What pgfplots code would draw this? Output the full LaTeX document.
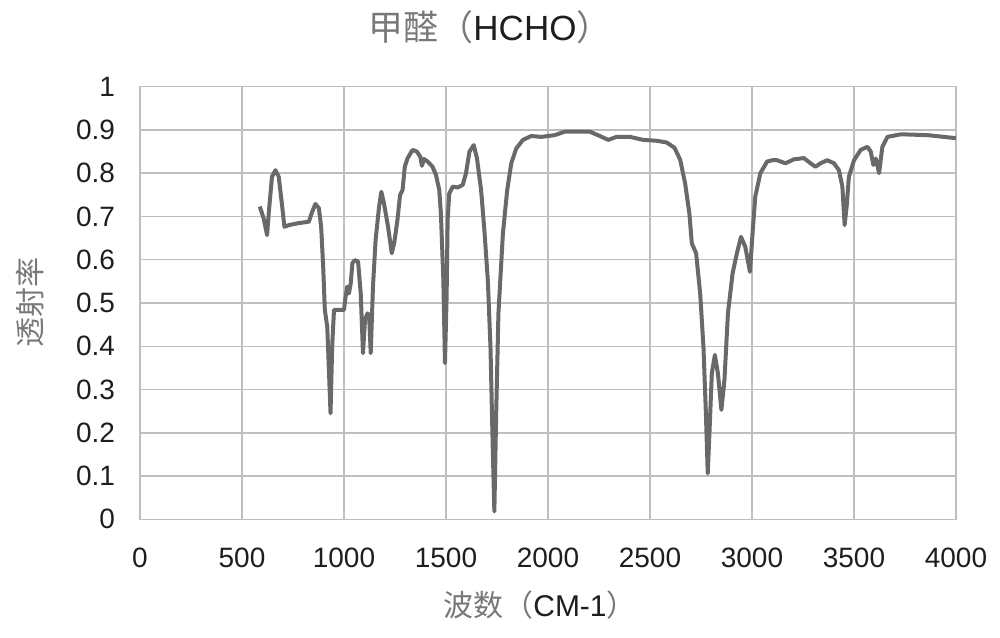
\documentclass[border=0pt]{standalone}
\usepackage{pgfplots}
\pgfplotsset{compat=1.18}
\usepackage{fontspec}
\setmainfont{Liberation Sans}
\newfontfamily\cjk{Noto Sans CJK SC}
\definecolor{curve}{RGB}{105,105,105}
\definecolor{gridc}{RGB}{190,190,190}
\definecolor{labc}{RGB}{120,120,120}
\definecolor{tickc}{RGB}{30,30,30}
\begin{document}
\begin{tikzpicture}
\begin{axis}[
  at={(0,0)}, anchor=south west,
  scale only axis, width=408pt, height=216.3pt,
  xmin=0, xmax=4000, ymin=0, ymax=1,
  xtick={0,500,...,4000},
  ytick={0,0.1,0.2,0.3,0.4,0.5,0.6,0.7,0.8,0.9,1},
  yticklabels={0,0.1,0.2,0.3,0.4,0.5,0.6,0.7,0.8,0.9,1},
  scaled ticks=false,
  /pgf/number format/1000 sep={},
  /pgf/number format/assume math mode=true,
  major tick length=0pt,
  grid=major,
  major grid style={gridc, line width=0.75pt},
  axis line style={gridc, line width=0.75pt},
  tick label style={font=\fontsize{14}{16}\selectfont, text=tickc},
  xticklabel style={yshift=-10.8pt},
  yticklabel style={xshift=-9pt},
  clip=false,
]
\addplot[curve, line width=2pt, line join=round, mark=none] coordinates {
(587,0.723)(606,0.696)(623,0.657)(631,0.707)(647,0.792)(664,0.807)(680,0.792)(697,0.723)
(708,0.676)(729,0.680)(770,0.684)(828,0.688)(844,0.711)(860,0.729)(877,0.719)(888,0.676)
(898,0.584)(906,0.484)(918,0.445)(934,0.245)(942,0.399)(951,0.484)(967,0.484)(1000,0.484)
(1008,0.515)(1016,0.538)(1024,0.522)(1033,0.545)(1041,0.592)(1052,0.599)(1069,0.596)
(1082,0.522)(1093,0.384)(1103,0.461)(1115,0.476)(1123,0.472)(1131,0.384)(1142,0.538)
(1155,0.646)(1172,0.723)(1183,0.757)(1196,0.730)(1216,0.676)(1234,0.615)(1246,0.638)
(1262,0.692)(1275,0.750)(1287,0.761)(1298,0.815)(1311,0.834)(1336,0.854)(1357,0.850)
(1374,0.838)(1382,0.817)(1392,0.833)(1410,0.827)(1434,0.815)(1451,0.796)(1467,0.761)
(1475,0.707)(1487,0.553)(1495,0.361)(1503,0.515)(1508,0.692)(1516,0.753)(1533,0.769)
(1557,0.767)(1582,0.773)(1598,0.800)(1615,0.850)(1636,0.865)(1652,0.834)(1672,0.761)
(1688,0.669)(1705,0.553)(1718,0.399)(1729,0.168)(1737,0.018)(1746,0.245)(1757,0.476)
(1779,0.661)(1800,0.761)(1820,0.823)(1844,0.857)(1877,0.877)(1918,0.886)(1967,0.884)
(2033,0.888)(2082,0.896)(2180,0.896)(2205,0.896)(2254,0.886)(2295,0.877)(2336,0.884)
(2402,0.884)(2467,0.877)(2533,0.875)(2582,0.871)(2620,0.859)(2648,0.831)(2672,0.777)
(2693,0.707)(2705,0.638)(2726,0.615)(2746,0.522)(2762,0.399)(2774,0.245)(2783,0.106)
(2792,0.206)(2803,0.337)(2818,0.380)(2833,0.337)(2850,0.253)(2865,0.322)(2882,0.476)
(2905,0.569)(2926,0.615)(2946,0.653)(2967,0.630)(2990,0.572)(3004,0.670)(3016,0.746)
(3041,0.800)(3074,0.827)(3100,0.830)(3123,0.830)(3164,0.823)(3205,0.832)(3254,0.835)
(3287,0.823)(3311,0.815)(3336,0.823)(3369,0.830)(3402,0.823)(3426,0.807)(3443,0.769)
(3454,0.680)(3464,0.723)(3475,0.792)(3500,0.830)(3533,0.854)(3566,0.861)(3582,0.850)
(3595,0.819)(3607,0.834)(3623,0.800)(3639,0.861)(3664,0.884)(3730,0.890)(3861,0.888)
(4000,0.881)
};
\end{axis}
\node[font=\fontsize{17.5}{20}\selectfont] at (175pt,246.15pt) {{\color{labc}\cjk 甲醛（}{\color{tickc}HCHO}{\color{labc}\cjk ）}};
\node[font=\fontsize{15}{18}\selectfont] at (200pt,-42.85pt) {{\color{labc}\cjk 波数（}{\color{tickc}CM-1}{\color{labc}\cjk ）}};
\node[font=\fontsize{15}{18}\selectfont, rotate=90, text=labc] at (-55pt,108.15pt) {\cjk 透射率};
\pgfresetboundingbox
\useasboundingbox (-70pt,-58.85pt) rectangle (430pt,259.65pt);
\end{tikzpicture}
\end{document}
